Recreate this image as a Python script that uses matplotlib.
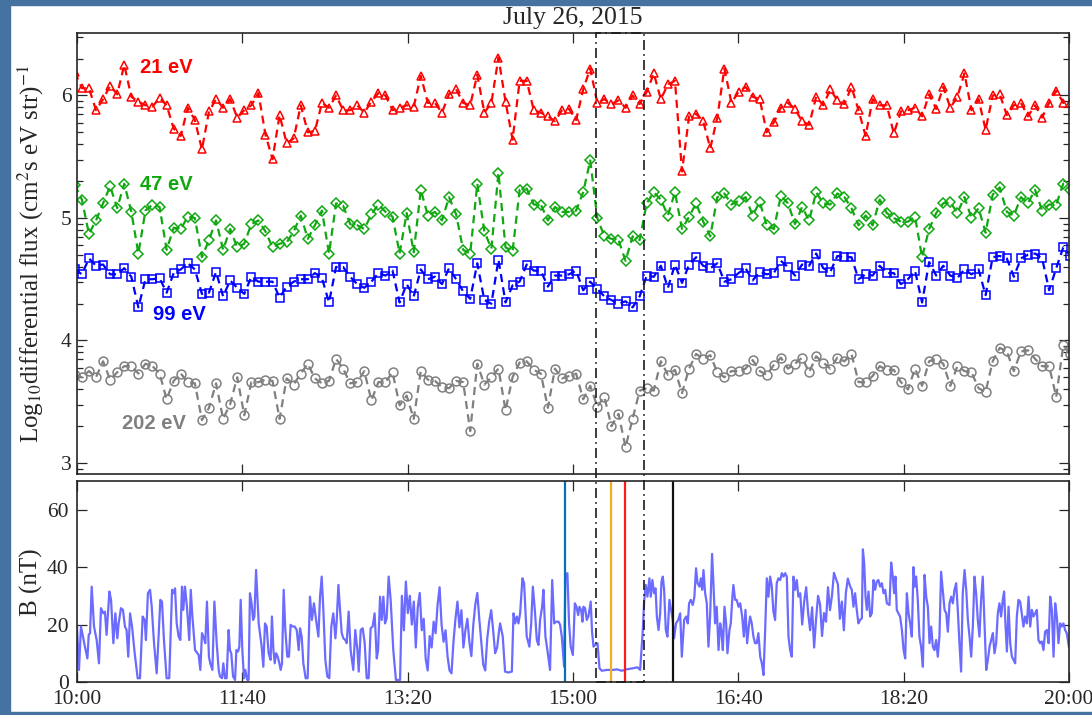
import numpy as np
import matplotlib
matplotlib.use("Agg")
import matplotlib.pyplot as plt
from matplotlib.patches import Rectangle
from matplotlib.ticker import FixedLocator
from matplotlib.transforms import blended_transform_factory

plt.rcParams['font.family'] = ['Liberation Serif', 'DejaVu Serif']
plt.rcParams['mathtext.fontset'] = 'stix'

# --- electron flux, log10 values, one sample every ~4.3 min (minutes after 10:00)
t_flux = -1.3 + 4.27 * np.arange(142)

flux_21 = [6.19,
    6.06, 6.06, 5.88, 5.97, 6.08, 6.01, 6.25, 5.99, 5.95, 5.92,
    5.91, 5.98, 5.92, 5.73, 5.67, 5.90, 5.80, 5.56, 5.87, 5.97,
    5.90, 5.97, 5.82, 5.88, 5.92, 6.02, 5.68, 5.48, 5.84, 5.61,
    5.65, 5.92, 5.70, 5.71, 5.94, 5.90, 6.00, 5.88, 5.88, 5.92,
    5.86, 5.95, 6.02, 6.00, 5.88, 5.90, 5.92, 5.91, 6.16, 5.94,
    5.94, 5.86, 6.01, 6.05, 5.94, 5.92, 6.17, 5.86, 5.94, 6.31,
    5.95, 5.64, 6.12, 6.12, 5.88, 5.86, 5.83, 5.79, 5.88, 5.89,
    5.80, 6.05, 6.22, 5.94, 5.97, 5.93, 5.96, 5.90, 6.00, 5.93,
    6.03, 6.18, 5.97, 6.09, 6.12, 5.38, 5.83, 5.85, 5.79, 5.57,
    5.82, 6.22, 5.94, 6.03, 6.07, 5.99, 5.97, 5.70, 5.78, 5.90,
    5.94, 5.89, 5.79, 5.76, 5.99, 5.92, 6.05, 5.96, 5.93, 6.07,
    5.88, 5.67, 5.97, 5.92, 5.92, 5.69, 5.87, 5.88, 5.90, 5.83,
    6.01, 5.89, 6.07, 5.90, 5.99, 6.18, 5.88, 5.97, 5.72, 6.00,
    6.01, 5.84, 5.92, 5.94, 5.83, 5.92, 5.82, 5.94, 6.04, 5.94,
    5.94]

flux_47 = [5.27,
    5.15, 4.87, 4.98, 5.12, 5.26, 5.08, 5.28, 5.05, 4.71, 5.06,
    5.11, 5.09, 4.74, 4.92, 4.91, 5.01, 5.00, 4.68, 4.82, 4.98,
    4.74, 4.91, 4.76, 4.79, 4.95, 4.98, 4.89, 4.76, 4.79, 4.80,
    4.89, 5.02, 4.83, 4.94, 5.06, 4.71, 5.12, 5.10, 4.95, 4.94,
    4.91, 5.03, 5.11, 5.05, 5.01, 4.71, 5.04, 4.72, 5.23, 5.02,
    5.05, 4.98, 5.17, 5.03, 4.74, 4.71, 5.28, 4.89, 4.75, 5.37,
    4.76, 4.73, 5.23, 5.24, 5.11, 5.11, 4.98, 5.09, 5.05, 5.05,
    5.06, 5.21, 5.47, 5.00, 4.85, 4.83, 4.82, 4.65, 4.85, 4.82,
    5.12, 5.21, 5.15, 5.02, 5.21, 4.91, 5.01, 5.12, 4.97, 4.85,
    5.17, 5.20, 5.11, 5.14, 5.17, 5.02, 5.13, 4.94, 4.91, 5.18,
    5.12, 4.95, 5.09, 4.98, 5.21, 5.12, 5.11, 5.20, 5.17, 5.08,
    4.94, 5.02, 4.94, 5.15, 5.04, 5.00, 4.97, 4.97, 5.01, 4.68,
    4.91, 5.04, 5.12, 5.13, 5.04, 5.17, 5.00, 5.08, 4.88, 5.19,
    5.25, 5.05, 5.02, 5.17, 5.12, 5.23, 5.06, 5.11, 5.11, 5.28,
    5.23]

flux_99 = [4.58,
    4.54, 4.67, 4.61, 4.62, 4.54, 4.54, 4.59, 4.52, 4.27, 4.50,
    4.50, 4.51, 4.39, 4.55, 4.58, 4.63, 4.58, 4.38, 4.39, 4.56,
    4.36, 4.49, 4.43, 4.38, 4.52, 4.48, 4.48, 4.48, 4.35, 4.44,
    4.48, 4.50, 4.50, 4.55, 4.51, 4.31, 4.60, 4.60, 4.52, 4.46,
    4.43, 4.48, 4.55, 4.53, 4.57, 4.31, 4.46, 4.36, 4.58, 4.50,
    4.52, 4.46, 4.59, 4.50, 4.40, 4.34, 4.63, 4.33, 4.30, 4.66,
    4.31, 4.45, 4.48, 4.62, 4.57, 4.57, 4.44, 4.53, 4.53, 4.54,
    4.57, 4.41, 4.48, 4.42, 4.36, 4.33, 4.30, 4.32, 4.27, 4.36,
    4.53, 4.52, 4.61, 4.43, 4.62, 4.47, 4.62, 4.68, 4.61, 4.59,
    4.63, 4.48, 4.50, 4.55, 4.59, 4.49, 4.56, 4.54, 4.55, 4.65,
    4.60, 4.53, 4.62, 4.61, 4.71, 4.59, 4.56, 4.69, 4.68, 4.68,
    4.50, 4.54, 4.53, 4.61, 4.55, 4.55, 4.46, 4.50, 4.57, 4.31,
    4.64, 4.53, 4.61, 4.53, 4.51, 4.58, 4.54, 4.58, 4.37, 4.68,
    4.69, 4.67, 4.52, 4.67, 4.70, 4.71, 4.67, 4.41, 4.59, 4.76,
    4.69]

flux_202 = [3.72,
    3.70, 3.75, 3.70, 3.83, 3.68, 3.74, 3.79, 3.79, 3.73, 3.81,
    3.79, 3.73, 3.52, 3.67, 3.73, 3.66, 3.65, 3.35, 3.45, 3.65,
    3.36, 3.48, 3.70, 3.39, 3.66, 3.66, 3.68, 3.67, 3.36, 3.69,
    3.64, 3.73, 3.81, 3.69, 3.65, 3.67, 3.85, 3.77, 3.65, 3.66,
    3.75, 3.51, 3.66, 3.66, 3.74, 3.47, 3.55, 3.36, 3.75, 3.68,
    3.67, 3.62, 3.61, 3.67, 3.66, 3.26, 3.81, 3.64, 3.70, 3.77,
    3.43, 3.70, 3.82, 3.83, 3.76, 3.73, 3.45, 3.77, 3.69, 3.71,
    3.73, 3.52, 3.63, 3.46, 3.54, 3.30, 3.40, 3.13, 3.36, 3.59,
    3.61, 3.59, 3.83, 3.72, 3.76, 3.57, 3.77, 3.89, 3.85, 3.88,
    3.74, 3.70, 3.75, 3.75, 3.77, 3.84, 3.75, 3.72, 3.80, 3.86,
    3.77, 3.81, 3.86, 3.74, 3.87, 3.82, 3.77, 3.86, 3.83, 3.89,
    3.66, 3.66, 3.71, 3.79, 3.76, 3.76, 3.66, 3.60, 3.77, 3.63,
    3.83, 3.85, 3.81, 3.63, 3.79, 3.75, 3.74, 3.61, 3.58, 3.83,
    3.94, 3.91, 3.75, 3.91, 3.92, 3.85, 3.79, 3.79, 3.54, 3.96,
    3.89]

flux_labels = ['21 eV', '47 eV', '99 eV', '202 eV']

# --- magnetic field magnitude (minutes after 10:00, nT)
b_min = [
    # 10:00 - 13:15
    0.0, 1.2, 2.4, 4.8, 6.3, 7.1, 7.9, 8.9, 10.3, 11.9,
    13.3, 14.5, 15.9, 16.9, 17.9, 19.6, 20.6, 22.0, 23.2, 24.4,
    25.2, 26.6, 27.8, 29.0, 30.0, 31.0, 32.1, 33.3, 34.9, 36.7,
    38.1, 39.7, 40.9, 41.7, 42.9, 44.2, 45.2, 46.6, 48.2, 49.4,
    50.4, 51.4, 52.6, 54.2, 55.8, 57.5, 58.5, 59.3, 60.3, 61.5,
    62.5, 63.5, 64.3, 65.3, 66.5, 67.9, 68.8, 69.8, 71.4, 72.8,
    73.6, 74.6, 75.6, 76.8, 77.6, 78.6, 79.8, 80.6, 81.9, 83.1,
    84.5, 85.7, 86.5, 87.7, 88.5, 89.5, 90.5, 91.7, 92.5, 93.3,
    94.4, 95.6, 96.4, 97.4, 98.2, 99.0, 100.0, 101.0, 101.8, 103.0,
    103.8, 104.6, 105.6, 106.5, 107.3, 108.3, 109.1, 109.9, 110.9, 111.7,
    112.7, 113.7, 114.7, 115.9, 117.1, 117.9, 118.8, 119.6, 120.4, 121.4,
    122.4, 123.2, 124.0, 125.0, 126.0, 127.2, 128.2, 129.2, 130.4, 131.7,
    132.9, 134.1, 134.9, 135.9, 136.9, 138.3, 139.5, 140.9, 142.1, 143.3,
    144.6, 146.0, 147.0, 148.0, 149.0, 150.2, 151.4, 152.6, 153.8, 155.0,
    156.3, 157.1, 158.1, 159.1, 160.1, 161.1, 162.3, 163.1, 164.3, 165.5,
    167.1, 168.3, 169.6, 170.4, 171.6, 172.8, 174.0, 175.2, 176.4, 177.6,
    178.8, 180.0, 181.3, 182.1, 183.3, 184.3, 185.3, 186.3, 187.3, 188.5,
    189.7, 191.3, 192.9, 195.4,
    # 13:15 - 14:15
    196.5, 197.7, 198.9, 200.1, 201.3, 202.5, 203.7, 204.9, 206.1, 207.3,
    208.5, 209.7, 210.9, 212.1, 213.3, 214.5, 215.7, 216.9, 218.1, 219.3,
    220.5, 221.7, 222.9, 224.1, 225.3, 226.5, 227.7, 228.9, 230.1, 231.3,
    232.5, 233.7, 234.9, 236.1, 237.3, 238.5, 239.7, 240.9, 242.1, 243.3,
    244.5, 245.7, 246.9, 248.1, 249.3, 250.5, 251.7, 252.9, 254.1, 255.3,
    # 14:15 - 17:17
    255.9, 257.5, 258.9, 260.9, 263.0, 264.0, 265.0, 266.0, 267.0, 268.0,
    269.4, 270.4, 272.0, 273.6, 274.7, 275.7, 276.9, 278.1, 279.1, 280.1,
    281.3, 282.1, 283.3, 284.5, 286.1, 287.4, 288.6, 289.8, 291.2, 292.2,
    293.2, 294.6, 295.4, 296.6, 297.6, 298.6, 299.9, 301.1, 302.1, 303.1,
    303.9, 304.9, 305.7, 306.3, 307.3, 308.3, 309.3, 310.7, 311.5, 312.4,
    313.4, 314.8, 316.0, 317.4, 320.4, 324.4, 326.5, 329.5, 332.5, 336.5,
    339.0, 340.6, 342.2, 343.0, 344.0, 345.0, 346.2, 347.0, 348.0, 349.0,
    349.9, 350.7, 351.7, 352.7, 353.5, 354.3, 355.1, 356.1, 357.1, 358.3,
    359.3, 360.3, 361.1, 362.3, 363.6, 364.8, 365.8, 367.2, 368.4, 369.4,
    370.2, 371.2, 372.4, 373.4, 374.4, 375.3, 376.5, 377.3, 378.1, 378.9,
    379.9, 380.9, 381.9, 382.9, 384.1, 384.9, 385.9, 386.9, 388.0, 389.0,
    389.8, 390.6, 391.6, 392.6, 393.4, 394.6, 395.4, 396.4, 397.0, 398.0,
    399.0, 400.1, 401.1, 402.3, 403.3, 404.3, 405.3, 406.3, 407.1, 408.1,
    409.1, 410.1, 411.1, 412.1, 413.2, 414.2, 415.2, 416.2, 417.2, 418.2,
    419.2, 420.2, 421.2, 422.2, 423.2, 424.2, 425.3, 426.3, 427.3, 428.3,
    429.3, 430.3, 431.3, 432.3, 433.3, 434.3, 435.3, 436.3, 437.4,
    # 17:17 - 17:47
    438.6, 439.8, 441.0, 442.2, 443.4, 444.6, 445.8, 447.0, 448.2, 449.4,
    450.6, 451.8, 453.0, 454.2, 455.4, 456.6, 457.8, 459.0, 460.2, 461.4,
    462.6, 463.8, 465.0, 466.2,
    # 17:47 - 20:00
    467.6, 468.6, 469.6, 470.6, 471.6, 472.6, 473.6, 474.7, 475.3, 476.1,
    476.9, 477.7, 478.7, 479.7, 480.7, 481.7, 482.7, 483.7, 484.7, 485.7,
    486.8, 487.8, 488.8, 489.8, 491.4, 492.4, 493.4, 494.2, 495.0, 495.8,
    496.8, 497.8, 498.9, 499.9, 500.9, 501.9, 502.9, 503.9, 504.9, 505.9,
    506.7, 507.5, 508.5, 509.5, 510.5, 511.6, 512.6, 513.6, 514.6, 515.6,
    516.6, 517.6, 518.6, 519.6, 520.6, 521.6, 522.6, 523.6, 524.7, 525.7,
    526.7, 527.7, 528.7, 529.7, 530.7, 531.7, 532.7, 533.7, 534.7, 535.7,
    536.8, 537.8, 538.8, 539.8, 540.8, 541.8, 542.8, 543.8, 544.8, 545.8,
    546.8, 547.8, 548.9, 549.9, 550.9, 551.9, 552.9, 553.9, 554.9, 555.9,
    556.9, 557.9, 558.9, 559.9, 560.7, 561.5, 562.4, 563.4, 564.4, 565.4,
    566.4, 567.4, 568.4, 569.4, 570.4, 571.4, 572.4, 573.4, 574.5, 575.5,
    576.5, 577.5, 578.5, 579.5, 580.5, 581.5, 582.5, 583.5, 584.5, 585.5,
    586.6, 587.6, 588.6, 589.6, 590.6, 591.6, 592.6, 593.6, 594.6, 595.6,
    596.6, 597.6, 598.6, 599.9,
]

b_nt = [
    19.3, 4.2, 19.3, 12.3, 8.2, 16.4, 17.0, 33.2, 19.3, 14.6,
    6.5, 25.7, 23.9, 24.5, 16.4, 31.5, 28.6, 13.5, 23.9, 15.2,
    20.4, 25.7, 25.1, 19.3, 18.1, 8.8, 23.9, 19.3, 10.0, 1.3,
    1.3, 22.8, 21.6, 14.6, 30.9, 32.1, 26.2, 13.5, 3.0, 16.4,
    28.6, 28.0, 14.6, 1.3, 1.3, 32.1, 30.9, 32.6, 20.4, 15.8,
    14.6, 33.2, 25.1, 33.2, 26.2, 14.6, 32.1, 22.8, 11.1, 10.0,
    9.4, 4.2, 17.0, 15.2, 13.5, 28.0, 8.8, 6.5, 4.2, 28.0,
    13.5, 4.2, 1.9, 1.3, 6.5, 1.3, 1.3, 18.1, 11.1, 10.0,
    1.9, 0.7, 11.1, 10.6, 12.3, 28.6, 11.1, 1.3, 4.2, 0.7,
    0.7, 30.9, 27.4, 21.6, 22.8, 39.0, 29.7, 20.4, 15.8, 12.3,
    5.3, 20.4, 19.3, 10.0, 7.7, 22.8, 11.1, 6.5, 10.0, 8.8,
    6.5, 4.2, 6.5, 32.1, 18.1, 8.8, 8.8, 19.9, 19.3, 19.3,
    18.1, 11.1, 18.7, 15.8, 6.5, 1.3, 1.3, 29.7, 21.6, 27.4,
    21.6, 15.8, 29.7, 36.7, 25.1, 7.7, 1.9, 1.3, 19.3, 23.9,
    15.2, 21.6, 33.8, 25.1, 17.0, 15.2, 14.6, 13.5, 24.5, 11.1,
    4.2, 18.1, 11.1, 3.6, 18.1, 18.7, 13.5, 1.3, 1.3, 18.7,
    19.3, 23.9, 8.2, 11.1, 29.7, 21.6, 29.7, 20.4, 22.2, 36.7,
    28.6, 11.1, 0.7, 0.7,
    30, 18, 35, 24, 30, 20, 28, 12, 26, 31,
    18, 22, 8, 4, 16, 12, 21, 17, 27, 33,
    20, 14, 18, 9, 4, 3, 14, 22, 28, 19,
    25, 12, 18, 22, 14, 9, 20, 27, 31, 22,
    14, 6, 4, 15, 21, 25, 18, 10, 12, 18,
    20.4, 15.8, 3.6, 3.3, 3.6, 23.9, 20.4, 22.8, 20.4, 23.9,
    36.1, 34.4, 15.8, 12.3, 20.4, 33.2, 25.1, 14.6, 12.9, 21.6,
    26.2, 32.1, 15.8, 11.1, 4.2, 35.5, 20.4, 21.0, 21.0, 19.9,
    15.8, 5.3, 37.3, 37.9, 20.4, 12.3, 9.4, 27.4, 26.2, 23.3,
    26.2, 25.1, 21.0, 26.2, 25.7, 21.6, 22.8, 28.0, 17.5, 12.3,
    12.9, 13.5, 4.8, 3.9, 4.2, 4.2, 4.4, 3.9, 4.4, 4.8,
    5.1, 4.2, 18.1, 28.0, 33.8, 29.7, 36.1, 29.7, 35.5, 30.9,
    32.6, 22.8, 18.1, 23.9, 35.0, 36.7, 32.1, 18.1, 15.8, 28.6,
    25.1, 21.6, 15.2, 20.4, 21.6, 23.9, 8.8, 21.6, 22.8, 20.4,
    27.4, 28.6, 26.8, 29.7, 39.6, 34.4, 33.2, 36.1, 32.1, 39.0,
    30.9, 27.4, 12.3, 22.8, 44.6, 34.4, 20.4, 26.2, 11.1, 20.4,
    17.5, 11.1, 26.2, 20.4, 10.0, 18.1, 20.4, 29.7, 33.8, 28.6,
    28.6, 26.2, 27.4, 22.8, 15.8, 25.1, 13.5, 19.3, 22.8, 20.4,
    15.8, 13.5, 13.5, 17.0, 8.8, 6.5, 2.4, 18.1, 36.1, 29.7,
    36.7, 33.2, 24.5, 21.6, 34.4, 36.1, 35.5, 37.9, 36.7, 37.9,
    36.7, 15.8, 11.1, 8.8, 36.7, 32.1, 35.5, 29.7, 30.9,
    20, 28, 33, 24, 18, 26, 12, 22, 30, 27,
    16, 24, 21, 33, 25, 30, 38, 36, 34, 22,
    28, 18, 31, 36,
    33.2, 32.1, 26.2, 30.9, 25.1, 20.4, 21.6, 22.2, 46.2, 41.3,
    29.7, 25.1, 31.5, 22.8, 23.9, 35.5, 32.1, 35.0, 35.5, 33.2,
    34.4, 30.9, 32.1, 27.4, 26.8, 41.6, 36.7, 30.9, 36.7, 25.1,
    23.9, 22.8, 18.1, 11.1, 8.2, 30.9, 23.9, 20.4, 15.8, 40.0,
    33.2, 36.7, 28.6, 15.8, 12.3, 5.3, 37.3, 29.7, 26.2, 13.5,
    19.3, 12.3, 11.1, 14.6, 8.8, 15.8, 38.4, 32.1, 25.1, 23.9,
    17.5, 27.4, 29.7, 27.4, 32.1, 34.4, 25.1, 13.5, 3.6, 30.9,
    39.0, 32.1, 21.6, 15.8, 8.8, 19.3, 36.7, 30.9, 21.6, 15.8,
    28.6, 36.7, 19.3, 4.2, 7.7, 12.3, 14.6, 17.0, 10.0, 13.5,
    23.9, 27.4, 22.8, 28.6, 31.5, 20.4, 10.6, 26.2, 13.5, 8.8,
    7.7, 6.5, 22.8, 28.6, 28.0, 23.9, 19.3, 22.8, 20.4, 29.7,
    19.3, 25.1, 22.8, 23.9, 25.1, 14.6, 13.5, 14.1, 11.1, 17.5,
    18.1, 13.5, 29.7, 25.1, 8.8, 27.4, 22.8, 13.5, 20.4, 19.3,
    20.4, 18.1, 17.0, 12.3,
]

# event markers in the field panel (minutes after 10:00)
event_min = [295.0, 323.0, 331.5, 360.5]
event_colors = ['#0072bd', '#edb120', '#ff1a1a', '#111111']
box_min = [314.0, 343.2]

tick_min = [0, 100, 200, 300, 400, 500, 600]
tick_lbl = ['10:00', '11:40', '13:20', '15:00', '16:40', '18:20', '20:00']

fig = plt.figure(figsize=(10.92, 7.15), dpi=100)
ink = '#262626'

# blue frame of the slide
frame = '#4672a2'
for r in [(0, 0, 10 / 1092, 1), (0, 1 - 5 / 715, 1, 5 / 715), (0, 0, 1, 3 / 715)]:
    fig.add_artist(Rectangle(r[:2], r[2], r[3], transform=fig.transFigure,
                             color=frame, zorder=-5))

ax1 = fig.add_axes([0.0705, 0.3371, 0.9085, 0.6167])
ax2 = fig.add_axes([0.0705, 0.0462, 0.9085, 0.2811])

styles = [('#ff0000', '^', 6.4), ('#10a810', 'D', 4.6),
          ('#0000ff', 's', 5.2), ('#808080', 'o', 6.4)]
for vals, (c, m, ms) in zip([flux_21, flux_47, flux_99, flux_202], styles):
    ax1.plot(t_flux, vals, ls=(0, (3.6, 2.4)), lw=1.6, color=c, marker=m,
             ms=ms, mfc='none', mew=1.1)

lab_pos = [(38, 6.23), (38, 5.27), (46, 4.21), (27, 3.32)]
for txt, (x, y), (c, _, _) in zip(flux_labels, lab_pos, styles):
    ax1.text(x, y, txt, color=c, fontsize=14.5, fontweight='bold',
             family='Liberation Sans', va='center', ha='left')

ax1.set_ylim(2.91, 6.51)
ax1.set_yticks([3, 4, 5, 6])
minor = [n + np.log10(k) for n in range(2, 7) for k in range(2, 10)]
ax1.yaxis.set_minor_locator(FixedLocator([v for v in minor if 2.91 < v < 6.51]))

ax2.plot(b_min, b_nt, color='#6b6bff', lw=1.6)
for x, c in zip(event_min, event_colors):
    ax2.axvline(x, color=c, lw=1.6)
ax2.set_ylim(0, 70)
ax2.set_yticks([0, 20, 40, 60])

for ax in (ax1, ax2):
    ax.set_xlim(0, 600)
    ax.set_xticks(tick_min)
    ax.tick_params(which='both', direction='in', top=True, right=True,
                   colors=ink, labelsize=15.5, width=0.9)
    ax.tick_params(which='major', length=7)
    ax.tick_params(which='minor', length=4.5)
    for s in ax.spines.values():
        s.set_color(ink)
        s.set_linewidth(1.2)
ax1.set_xticklabels([])
ax2.set_xticklabels(tick_lbl)
ax1.tick_params(axis='y', pad=4)
ax2.tick_params(axis='y', pad=6)
ax2.tick_params(axis='x', pad=6)

# dash-dot interval box spanning both panels
tr = blended_transform_factory(ax2.transData, fig.transFigure)
fig.add_artist(Rectangle((box_min[0], 0.0462), box_min[1] - box_min[0], 0.9538 - 0.0462,
                         transform=tr, fill=False, ec='#1a1a1a', lw=1.2,
                         ls=(0, (6, 2.5, 1, 2.5)), zorder=5))

fig.text(573 / 1092, 1 - 18 / 715, 'July 26, 2015', ha='center', va='center',
         fontsize=18.5, color=ink)
fig.text(31 / 1092, 1 - 254 / 715,
         r'Log$_{10}$differential flux (cm$^2$s eV str)$^{-1}$',
         rotation=90, ha='center', va='center', fontsize=18, color=ink)
fig.text(31 / 1092, 1 - 582 / 715, 'B (nT)', rotation=90, ha='center',
         va='center', fontsize=18, color=ink)

fig.savefig('out.png', dpi=100)
